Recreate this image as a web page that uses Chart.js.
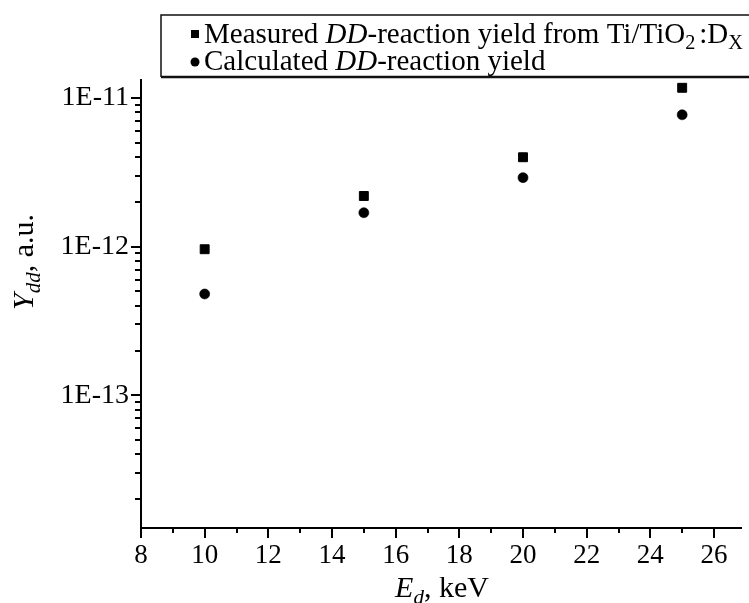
<!DOCTYPE html>
<html><head><meta charset="utf-8">
<script src="https://cdn.jsdelivr.net/npm/chart.js@4/dist/chart.umd.min.js"></script>
<style>html,body{margin:0;padding:0;background:#fff}#c{display:block}</style>
</head><body>
<canvas id="c" width="749" height="603"></canvas>
<script>
// ---- data ----
const energies = [10, 15, 20, 25];
const measuredYield = [9.6e-13, 2.19e-12, 3.99e-12, 1.17e-11];
const calculatedYield = [4.8e-13, 1.69e-12, 2.91e-12, 7.7e-12];
const xTickLabels = ['8', '10', '12', '14', '16', '18', '20', '22', '24', '26'];
const yTickLabels = ['1E-13', '1E-12', '1E-11'];
const seriesNames = ['Measured DD-reaction yield from Ti/TiO2:DX', 'Calculated DD-reaction yield'];

const FONT = "'Liberation Serif', 'Times New Roman', serif";
const X_MIN = 8, X_MAX = 26.87;
const Y_MIN = 1.28e-14, Y_MAX = 1.32e-11;

function toPoints(xs, ys) { return xs.map((x, i) => ({ x: x, y: ys[i] })); }

function xTickValues() {
  const t = [];
  for (let v = 8; v <= 26; v++) t.push(v);
  return t;
}
function yTickValues() {
  const t = [];
  for (let e = -14; e <= -11; e++) {
    for (let m = 1; m <= 9; m++) {
      const v = m * Math.pow(10, e);
      if (v >= Y_MIN && v <= Y_MAX) t.push({ value: v, major: m === 1 });
    }
  }
  return t;
}

// draw text runs: {t, it (italic), sub (subscript), gap (extra px before)}
function drawRuns(ctx, x, y, runs, size, align) {
  const widths = runs.map(r => {
    const s = r.sub ? size * 0.7 : size;
    ctx.font = (r.it ? 'italic ' : '') + s + 'px ' + FONT;
    return ctx.measureText(r.t).width + (r.gap || 0);
  });
  const total = widths.reduce((a, b) => a + b, 0);
  let cx = align === 'center' ? x - total / 2 : x;
  ctx.textAlign = 'left';
  ctx.textBaseline = 'alphabetic';
  runs.forEach((r, i) => {
    const s = r.sub ? size * 0.7 : size;
    ctx.font = (r.it ? 'italic ' : '') + s + 'px ' + FONT;
    ctx.fillText(r.t, cx + (r.gap || 0), y + (r.sub ? size * 0.22 : 0));
    cx += widths[i];
  });
}

const decorPlugin = {
  id: 'decor',
  afterDraw(chart) {
    const ctx = chart.ctx;
    const xs = chart.scales.x, ys = chart.scales.y;
    const area = chart.chartArea;
    ctx.save();
    ctx.strokeStyle = '#000';
    ctx.fillStyle = '#000';
    ctx.lineWidth = 2;
    // x ticks (outside, below axis)
    xTickValues().forEach(v => {
      const px = Math.round(xs.getPixelForValue(v));
      const len = (v % 2 === 0) ? 10 : 5;
      ctx.beginPath();
      ctx.moveTo(px, area.bottom);
      ctx.lineTo(px, area.bottom + len);
      ctx.stroke();
    });
    // y ticks (outside, left of axis)
    yTickValues().forEach(t => {
      const py = Math.round(ys.getPixelForValue(t.value));
      const len = t.major ? 10 : 6;
      ctx.beginPath();
      ctx.moveTo(area.left, py);
      ctx.lineTo(area.left - len, py);
      ctx.stroke();
    });

    // axis titles
    drawRuns(ctx, 442, 597, [
      { t: 'E', it: true }, { t: 'd', it: true, sub: true }, { t: ', keV' }
    ], 30, 'center');
    ctx.save();
    ctx.translate(33, 262);
    ctx.rotate(-Math.PI / 2);
    drawRuns(ctx, 0, 0, [
      { t: 'Y', it: true }, { t: 'dd', it: true, sub: true }, { t: ', a.u.' }
    ], 30, 'center');
    ctx.restore();

    // legend box
    ctx.lineWidth = 1.5;
    ctx.strokeStyle = '#111';
    ctx.beginPath();
    ctx.moveTo(760, 15);
    ctx.lineTo(161, 15);
    ctx.lineTo(161, 77);
    ctx.stroke();
    ctx.lineWidth = 2.5;
    ctx.beginPath();
    ctx.moveTo(161, 77);
    ctx.lineTo(760, 77);
    ctx.stroke();
    // legend markers
    ctx.fillStyle = '#000';
    ctx.fillRect(191, 30, 8, 8);
    ctx.beginPath();
    ctx.arc(195, 62, 4.5, 0, Math.PI * 2);
    ctx.fill();
    // legend texts
    drawRuns(ctx, 204, 43, [
      { t: 'Measured ' }, { t: 'DD', it: true }, { t: '-reaction yield from Ti/TiO' },
      { t: '2', sub: true }, { t: ':D', gap: 4 }, { t: 'X', sub: true }
    ], 29, 'left');
    drawRuns(ctx, 204, 70, [
      { t: 'Calculated ' }, { t: 'DD', it: true }, { t: '-reaction yield' }
    ], 29, 'left');
    ctx.restore();
  }
};

new Chart(document.getElementById('c'), {
  type: 'scatter',
  data: {
    datasets: [
      {
        label: seriesNames[0],
        data: toPoints(energies, measuredYield),
        pointStyle: 'rect',
        pointRadius: 6.3,
        pointHoverRadius: 6.3,
        backgroundColor: '#000',
        borderColor: '#000',
        borderWidth: 1,
        showLine: false
      },
      {
        label: seriesNames[1],
        data: toPoints(energies, calculatedYield),
        pointStyle: 'circle',
        pointRadius: 5,
        pointHoverRadius: 5,
        backgroundColor: '#000',
        borderColor: '#000',
        borderWidth: 0.6,
        showLine: false
      }
    ]
  },
  options: {
    responsive: false,
    animation: false,
    devicePixelRatio: 1,
    layout: { padding: { top: 80, left: 0, right: 0, bottom: 0 } },
    plugins: { legend: { display: false }, tooltip: { enabled: false } },
    events: [],
    scales: {
      x: {
        type: 'linear',
        min: X_MIN,
        max: X_MAX,
        afterBuildTicks(scale) {
          scale.ticks = xTickValues().map(v => ({ value: v }));
        },
        afterFit(scale) { scale.height = 75; },
        grid: { display: true, drawOnChartArea: false, drawTicks: false },
        border: { display: true, color: '#000', width: 2 },
        ticks: {
          autoSkip: false,
          maxRotation: 0,
          padding: 12,
          color: '#000',
          font: { family: FONT, size: 27 },
          major: { enabled: false },
          callback(value) {
            const s = String(value);
            return xTickLabels.includes(s) ? s : '';
          }
        }
      },
      y: {
        type: 'logarithmic',
        min: Y_MIN,
        max: Y_MAX,
        afterBuildTicks(scale) {
          scale.ticks = yTickValues();
        },
        afterFit(scale) { scale.width = 141; },
        grid: { display: true, drawOnChartArea: false, drawTicks: false },
        border: { display: true, color: '#000', width: 2 },
        ticks: {
          autoSkip: false,
          padding: 12,
          color: '#000',
          font: { family: FONT, size: 28 },
          major: { enabled: false },
          callback(value) {
            const lg = Math.log10(value);
            const r = Math.round(lg);
            if (Math.abs(lg - r) < 1e-6) {
              const lbl = yTickLabels[r + 13];
              return lbl !== undefined ? lbl : '';
            }
            return '';
          }
        }
      }
    }
  },
  plugins: [decorPlugin]
});
</script>
</body></html>
